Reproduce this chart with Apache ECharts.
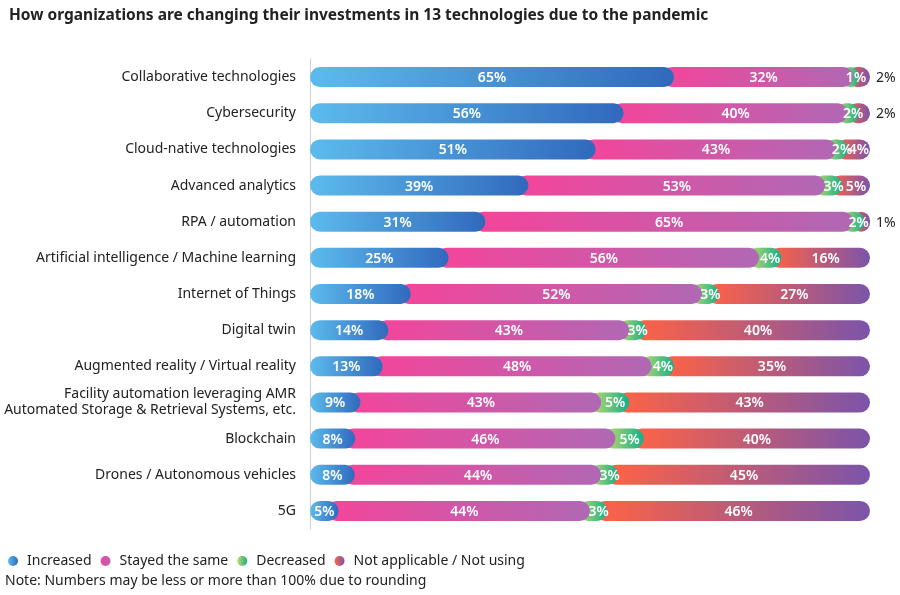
<!DOCTYPE html>
<html>
<head>
<meta charset="utf-8">
<script src="https://cdn.jsdelivr.net/npm/echarts@6/dist/echarts.min.js"></script>
<style>
  html, body { margin: 0; padding: 0; background: #fff; }
  #main { width: 900px; height: 595px; }
</style>
</head>
<body>
<div id="main"></div>
<script>
// 数据
var categories = [
    'Collaborative technologies',
    'Cybersecurity',
    'Cloud-native technologies',
    'Advanced analytics',
    'RPA / automation',
    'Artificial intelligence / Machine learning',
    'Internet of Things',
    'Digital twin',
    'Augmented reality / Virtual reality',
    'Facility automation leveraging AMR\nAutomated Storage & Retrieval Systems, etc.',
    'Blockchain',
    'Drones / Autonomous vehicles',
    '5G'
];
var increased     = [65, 56, 51, 39, 31, 25, 18, 14, 13, 9, 8, 8, 5];
var stayedSame    = [32, 40, 43, 53, 65, 56, 52, 43, 48, 43, 46, 44, 44];
var decreased     = [1, 2, 2, 3, 2, 4, 3, 3, 4, 5, 5, 3, 3];
var notApplicable = [2, 2, 4, 5, 1, 16, 27, 40, 35, 43, 40, 45, 46];

var seriesNames = ['Increased', 'Stayed the same', 'Decreased', 'Not applicable / Not using'];
var seriesValues = [increased, stayedSame, decreased, notApplicable];

function grad(c1, c2) {
    return new echarts.graphic.LinearGradient(0, 0, 1, 0, [
        { offset: 0, color: c1 },
        { offset: 1, color: c2 }
    ]);
}
var gradColors = [
    ['#5cbbec', '#3169bd'],
    ['#f4459a', '#b068b4'],
    ['#c3dc6a', '#16ae8a'],
    ['#ff6344', '#7b54aa']
];

var FONT = '"Noto Sans", "Open Sans", sans-serif';
var BAR_H = 20;

// 每行按总和归一，所有条等长
function buildSegments(k) {
    var out = [];
    for (var i = 0; i < categories.length; i++) {
        var total = 0, start = 0;
        for (var j = 0; j < seriesValues.length; j++) total += seriesValues[j][i];
        for (var j = 0; j < k; j++) start += seriesValues[j][i];
        var v = seriesValues[k][i];
        out.push([i, start / total * 100, (start + v) / total * 100, k, v]);
    }
    return out;
}

function renderBar(params, api) {
    var cat = api.value(0), seg = api.value(3);
    var p0 = api.coord([api.value(1), cat]);
    var p1 = api.coord([api.value(2), cat]);
    var overlap = seg > 0 ? BAR_H / 2 + 2 : 0;
    var x = p0[0] - overlap;
    return {
        type: 'rect',
        shape: { x: x, y: p0[1] - BAR_H / 2, width: p1[0] - x, height: BAR_H, r: BAR_H / 2 },
        style: { fill: grad(gradColors[seg][0], gradColors[seg][1]) }
    };
}

function renderLabel(params, api) {
    var cat = api.value(0), seg = api.value(3), v = api.value(4);
    var p0 = api.coord([api.value(1), cat]);
    var p1 = api.coord([api.value(2), cat]);
    var outside = seg === 3 && v <= 2;
    return {
        type: 'text',
        style: {
            text: v + '%',
            x: outside ? p1[0] + 6 : (p0[0] + p1[0]) / 2,
            y: p0[1] + 1,
            align: outside ? 'left' : 'center',
            verticalAlign: 'middle',
            fill: outside ? '#222' : '#fff',
            font: (outside ? '400 ' : '600 ') + '14px ' + FONT
        }
    };
}

var series = [];
for (var k = 0; k < seriesNames.length; k++) {
    series.push({
        name: seriesNames[k],
        type: 'custom',
        renderItem: renderBar,
        encode: { x: [1, 2], y: 0 },
        itemStyle: { color: grad(gradColors[k][0], gradColors[k][1]) },
        z: 10 - k,
        silent: true,
        data: buildSegments(k)
    });
}
var labelData = [];
for (var k = 0; k < seriesNames.length; k++) labelData = labelData.concat(buildSegments(k));
series.push({
    name: 'labels',
    type: 'custom',
    renderItem: renderLabel,
    encode: { x: [1, 2], y: 0 },
    z: 20,
    silent: true,
    data: labelData
});

var chart = echarts.init(document.getElementById('main'));
chart.setOption({
    animation: false,
    title: {
        text: 'How organizations are changing their investments in 13 technologies due to the pandemic',
        left: 4,
        top: 3,
        textStyle: { fontFamily: FONT, fontSize: 15.5, fontWeight: 'bold', color: '#222' }
    },
    legend: {
        data: seriesNames,
        left: 3,
        top: 549,
        icon: 'circle',
        itemWidth: 10,
        itemHeight: 10,
        itemGap: 9,
        textStyle: { fontFamily: FONT, fontSize: 14, color: '#222', padding: [0, 0, 0, 4] }
    },
    graphic: [{
        type: 'text',
        left: 5,
        top: 574,
        style: {
            text: 'Note: Numbers may be less or more than 100% due to rounding',
            font: '14px ' + FONT,
            fill: '#222'
        }
    }],
    grid: { left: 310, right: 30, top: 59, bottom: 66 },
    xAxis: { type: 'value', min: 0, max: 100, show: false },
    yAxis: {
        type: 'category',
        data: categories,
        inverse: true,
        axisLine: { show: true, lineStyle: { color: '#cfcfcf' } },
        axisTick: { show: false },
        axisLabel: {
            margin: 14,
            fontFamily: FONT,
            fontSize: 14,
            lineHeight: 16,
            color: '#222'
        }
    },
    series: series
});
window.onresize = chart.resize;
</script>
</body>
</html>
